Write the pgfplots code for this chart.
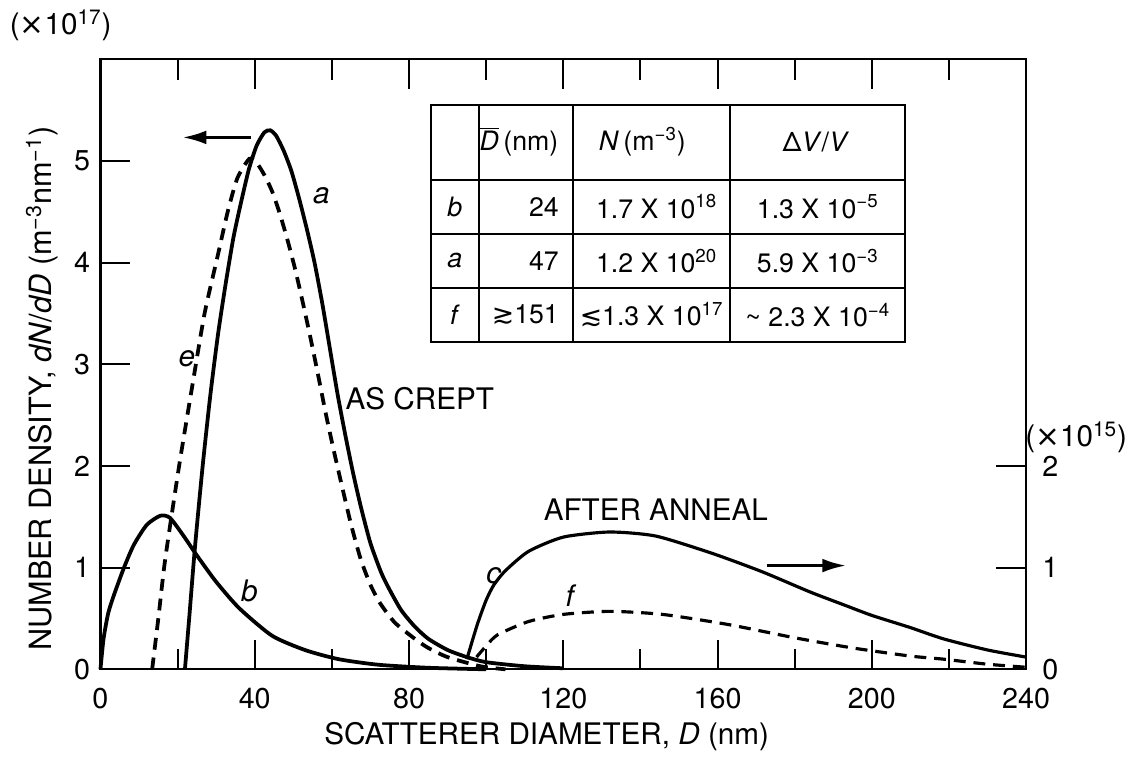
\documentclass[border=0pt]{standalone}
\usepackage{fontspec}
\setmainfont{TeX Gyre Heros}
\newfontfamily\dejavu{DejaVu Sans}
\usepackage{pgfplots}
\pgfplotsset{compat=1.18}
\usetikzlibrary{arrows.meta}

\pgfplotstableread{
x y
0 0
0.8 0.3
2 0.55
3.4 0.72
6 0.99
8.6 1.22
12 1.42
15.5 1.51
18 1.49
21.4 1.32
25 1.12
30 0.86
36 0.60
44.5 0.33
53 0.19
61.7 0.10
72 0.045
85 0.015
100 0.0
}\curveb

\pgfplotstableread{
x y
21.9 0
23 0.5
24.5 1.2
26.5 2.0
28.5 2.7
30.5 3.3
32.5 3.8
34.5 4.25
36.5 4.6
38.5 4.92
40.5 5.15
42.5 5.28
44 5.30
45.5 5.25
47.5 5.1
49.5 4.9
51.5 4.63
53.5 4.33
55.5 4.0
57.5 3.6
59.5 3.15
61.5 2.7
63.5 2.3
65.5 1.93
67.5 1.6
70 1.24
72.8 0.95
75 0.78
78 0.58
81.5 0.42
85 0.30
90 0.19
95 0.12
100 0.07
110 0.03
120 0.01
}\curvea

\pgfplotstableread{
x y
13.4 0
15 0.5
16.5 1.0
18 1.4
20.6 2.05
24 2.83
27 3.5
30.3 4.05
33 4.5
35.5 4.83
38.6 5.02
40.5 4.98
42.5 4.86
44.5 4.7
46.5 4.48
48.5 4.22
50.5 3.93
52.5 3.6
54.5 3.25
56.5 2.88
58.5 2.5
60.5 2.15
62.5 1.82
65 1.42
67.5 1.08
70 0.83
72.5 0.65
76.3 0.46
81.5 0.30
85 0.21
90 0.12
98.5 0.03
105 0
}\curvee

\pgfplotstableread{
x y
95 0.10
97.7 0.44
100 0.68
102 0.83
105 0.97
111 1.16
120 1.30
132 1.35
144 1.31
158.6 1.14
171.5 0.96
184 0.76
193 0.63
200 0.53
210 0.41
218.5 0.30
230 0.19
240 0.12
}\curvec

\pgfplotstableread{
x y
97.5 0.12
100 0.23
103 0.34
111 0.47
120 0.54
132 0.57
145.7 0.54
162.8 0.44
180 0.31
195 0.21
210 0.13
218.5 0.10
230 0.05
240 0.02
}\curvef

\begin{document}
\fontsize{15}{17}\selectfont
\begin{tikzpicture}
\begin{axis}[
  name=main, scale only axis, width=468pt, height=308.5pt,
  xmin=0, xmax=240, ymin=0, ymax=6,
  clip=false,
  axis line style={line width=1.2pt},
  xtick={0,40,...,240}, minor xtick={20,60,...,220},
  ytick={0,1,...,5},
  ytick pos=left,
  tick align=inside,
  major tick length=15pt, minor tick length=10.5pt,
  every tick/.style={line width=1pt, black},
  tick label style={font=\fontsize{14.5}{16}\selectfont},
  /pgf/number format/assume math mode=true,
  xticklabel style={yshift=-4.5pt},
]
\coordinate (bl) at (rel axis cs:0,0);
\addplot[line width=1.9pt, smooth, tension=0.4] table[x=x,y=y] {\curveb};
\addplot[line width=1.9pt, smooth, tension=0.4] table[x=x,y=y] {\curvea};
\addplot[line width=1.9pt, smooth, tension=0.4, dash pattern=on 6pt off 4pt] table[x=x,y=y] {\curvee};

% labels
\node at (axis cs:-10.3,6.33) {({\dejavu ×}10\textsuperscript{17})};
\node[rotate=90, font=\fontsize{15.5}{17}\selectfont] at (axis cs:-15.2,2.76) {NUMBER DENSITY, \textit{dN}/\textit{dD} (m\textsuperscript{−3}nm\textsuperscript{−1})};
\node at (axis cs:115.7,-0.66) {SCATTERER DIAMETER, \textit{D} (nm)};
\node at (axis cs:82.8,2.66) {AS CREPT};
\node at (axis cs:144,1.57) {AFTER ANNEAL};
\node at (axis cs:57.3,4.66) {\textit{a}};
\node at (axis cs:22.4,3.05) {\textit{e}};
\node at (axis cs:38.6,0.77) {\textit{b}};
\node at (axis cs:102,0.92) {\textit{c}};
\node at (axis cs:122,0.72) {\textit{f}};
\draw[line width=1.5pt, -{Latex[length=12pt,width=7pt]}] (axis cs:39,5.23) -- (axis cs:21.3,5.23);
\draw[line width=1.5pt, -{Latex[length=12pt,width=7pt]}] (axis cs:172.7,1.02) -- (axis cs:193.3,1.02);

% table
\draw[line width=1pt] (axis cs:85.6,5.553) rectangle (axis cs:208.7,3.223);
\draw[line width=1pt] (axis cs:85.6,4.816) -- (axis cs:208.7,4.816);
\draw[line width=1pt] (axis cs:85.6,4.282) -- (axis cs:208.7,4.282);
\draw[line width=1pt] (axis cs:85.6,3.748) -- (axis cs:208.7,3.748);
\draw[line width=1pt] (axis cs:98.2,5.553) -- (axis cs:98.2,3.223);
\draw[line width=1pt] (axis cs:122.6,5.553) -- (axis cs:122.6,3.223);
\draw[line width=1pt] (axis cs:163.2,5.553) -- (axis cs:163.2,3.223);
\begin{scope}[every node/.style={font=\fontsize{13.5}{15}\selectfont}]
\node at (axis cs:108.5,5.185) {$\overline{\mbox{\textit{D}}}$\,(nm)};
\node at (axis cs:140.5,5.185) {\textit{N}\,(m\textsuperscript{−3})};
\node at (axis cs:185.5,5.185) {Δ\textit{V}/\textit{V}};
\node at (axis cs:91.9,4.55) {\textit{b}};
\node at (axis cs:91.9,4.015) {\textit{a}};
\node at (axis cs:91.9,3.485) {\textit{f}};
\node[anchor=east] at (axis cs:121.5,4.55) {24};
\node[anchor=east] at (axis cs:121.5,4.015) {47};
\node[anchor=east] at (axis cs:121.5,3.485) {{\dejavu ≳}151};
\node at (axis cs:144.2,4.55) {1.7 X 10\textsuperscript{18}};
\node at (axis cs:144.2,4.015) {1.2 X 10\textsuperscript{20}};
\node at (axis cs:142.9,3.485) {{\dejavu ≲}1.3 X 10\textsuperscript{17}};
\node at (axis cs:186,4.55) {1.3 X 10\textsuperscript{−5}};
\node at (axis cs:186,4.015) {5.9 X 10\textsuperscript{−3}};
\node at (axis cs:186,3.485) {\textasciitilde\ 2.3 X 10\textsuperscript{−4}};
\end{scope}
\end{axis}

\begin{axis}[
  scale only axis, width=468pt, height=308.5pt,
  xmin=0, xmax=240, ymin=0, ymax=6,
  hide y axis,
  axis x line*=bottom,
  axis line style={line width=1.2pt},
  xtick={0,40,...,240}, minor xtick={20,60,...,220},
  xticklabels={},
  tick align=inside,
  major tick length=15pt, minor tick length=10.5pt,
  every tick/.style={line width=1pt, black},
]
\end{axis}

\begin{axis}[
  scale only axis, width=468pt, height=308.5pt,
  xmin=0, xmax=240, ymin=0, ymax=6,
  clip=false,
  hide x axis,
  axis y line*=right,
  axis line style={line width=1.2pt},
  ytick={0,1,2},
  tick align=inside,
  major tick length=15pt,
  every tick/.style={line width=1pt, black},
  tick label style={font=\fontsize{14.5}{16}\selectfont},
  /pgf/number format/assume math mode=true,
  yticklabel style={xshift=3pt},
]
\addplot[line width=1.6pt, smooth, tension=0.4] table[x=x,y=y] {\curvec};
\addplot[line width=1.6pt, smooth, tension=0.4, dash pattern=on 6pt off 4pt] table[x=x,y=y] {\curvef};
\node at (axis cs:253,2.28) {({\dejavu ×}10\textsuperscript{15})};
\end{axis}
\path ([shift={(-50pt,-44.5pt)}]bl) rectangle ([shift={(518.5pt,336pt)}]bl);
\end{tikzpicture}
\end{document}
